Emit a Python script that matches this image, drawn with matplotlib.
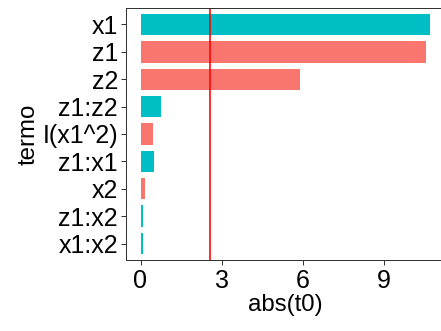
import matplotlib
matplotlib.use("Agg")
import matplotlib.pyplot as plt

plt.rcParams['font.family'] = ['Liberation Sans', 'DejaVu Sans']

termos = ["x1", "z1", "z2", "z1:z2", "I(x1^2)", "z1:x1", "x2", "z1:x2", "x1:x2"]
abs_t0 = [10.72, 10.55, 5.90, 0.75, 0.48, 0.49, 0.17, 0.09, 0.09]
sinal = ["pos", "neg", "neg", "pos", "neg", "pos", "neg", "pos", "pos"]
t_critico = 2.56

cores = {"neg": "#F8766D", "pos": "#00BFC4"}

fig = plt.figure(figsize=(441 / 72, 331 / 72), dpi=72)
ax = fig.add_axes([126 / 441, 71 / 331, 319 / 441, 252 / 331])

pos_y = list(range(len(termos)))[::-1]
ax.barh(pos_y, abs_t0, height=0.78, color=[cores[s] for s in sinal])
ax.axvline(t_critico, color="#FF0000", linewidth=1.6)

ax.set_yticks(pos_y)
ax.set_yticklabels(termos)
ax.set_xticks([0, 3, 6, 9])
ax.set_ylim(-0.6, len(termos) - 0.4)
xmax = max(abs_t0)
ax.set_xlim(-0.05 * xmax, 1.05 * xmax)

for s in ax.spines.values():
    s.set_color("#333333")
    s.set_linewidth(1.0)
ax.tick_params(axis="both", labelsize=25, color="#333333", length=5, width=1.0,
               labelcolor="black")
ax.tick_params(axis="y", pad=3)
ax.tick_params(axis="x", pad=4)

ax.set_xlabel("abs(t0)", fontsize=24, labelpad=1)
ax.set_ylabel("termo", fontsize=24, labelpad=3)

fig.savefig("out.png", dpi=72)
